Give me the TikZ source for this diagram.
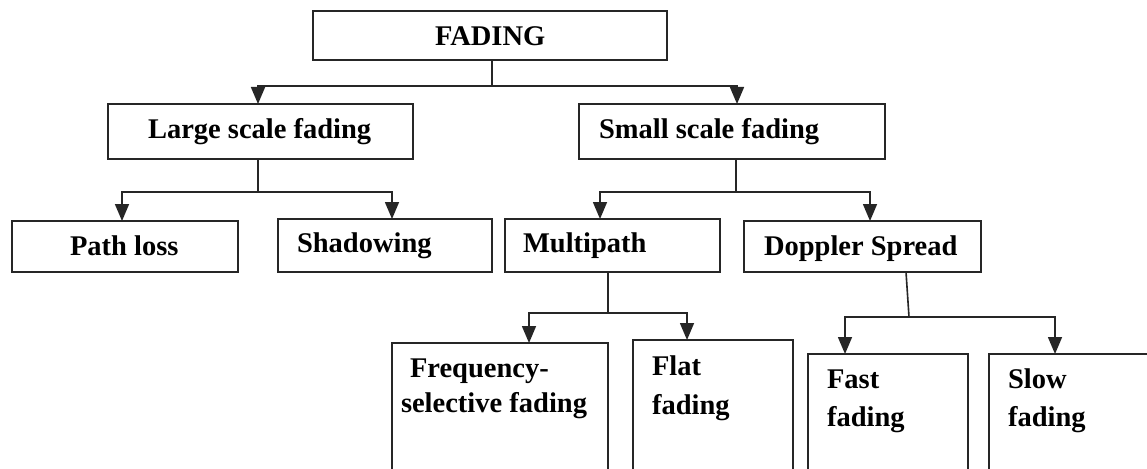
\documentclass[tikz,border=0pt]{standalone}
\usepackage{fontspec}
\setmainfont{Liberation Serif}
\usetikzlibrary{arrows.meta}

\tikzset{
  box/.style={draw=black!85, line width=1.6pt, inner sep=0pt, outer sep=0pt},
  conn/.style={draw=black!85, line width=1.6pt},
  arr/.style={conn, -{Triangle[width=14pt,length=17pt]}},
  lbl/.style={anchor=base west, inner sep=0pt, outer sep=0pt,
              font=\fontsize{28.5}{30}\selectfont\bfseries}
}

\begin{document}
\begin{tikzpicture}[x=1pt, y=-1pt]
  \useasboundingbox (0,0) rectangle (1147,468);
  \fill[white] (0,0) rectangle (1147,468);
  \clip (0,0) rectangle (1147,468);

  % boxes
  \node[box, minimum width=354pt, minimum height=49pt]  (fading)  at (490,35.5)   {};
  \node[box, minimum width=305pt, minimum height=55pt]  (large)   at (260.5,131.5) {};
  \node[box, minimum width=306pt, minimum height=55pt]  (small)   at (732,131.5)  {};
  \node[box, minimum width=226pt, minimum height=51pt]  (path)    at (125,246.5)  {};
  \node[box, minimum width=214pt, minimum height=53pt]  (shadow)  at (385,245.5)  {};
  \node[box, minimum width=215pt, minimum height=53pt]  (multi)   at (612.5,245.5) {};
  \node[box, minimum width=237pt, minimum height=51pt]  (doppler) at (862.5,246.5) {};
  \node[box, minimum width=216pt, minimum height=157pt] (freq)    at (500,421.5)  {};
  \node[box, minimum width=160pt, minimum height=160pt] (flat)    at (713,420)    {};
  \node[box, minimum width=160pt, minimum height=146pt] (fast)    at (888,427)    {};
  \node[box, minimum width=181pt, minimum height=146pt] (slow)    at (1079.5,427) {};

  % texts
  \node[lbl] (tFading)  at (435,46)  {FADING};
  \node[lbl] (tLarge)   at (148,138) {Large scale fading};
  \node[lbl] (tSmall)   at (599,138) {Small scale fading};
  \node[lbl] (tPath)    at (70,255)  {Path loss};
  \node[lbl] (tShadow)  at (297,252) {Shadowing};
  \node[lbl] (tMulti)   at (523,252) {Multipath};
  \node[lbl] (tDoppler) at (764,255) {Doppler Spread};
  \node[lbl] (tFreqA)   at (410,377) {Frequency-};
  \node[lbl] (tFreqB)   at (401,412) {selective fading};
  \node[lbl] (tFlatA)   at (652,375) {Flat};
  \node[lbl] (tFlatB)   at (652,414) {fading};
  \node[lbl] (tFastA)   at (827,388) {Fast};
  \node[lbl] (tFastB)   at (827,426) {fading};
  \node[lbl] (tSlowA)   at (1008,388) {Slow};
  \node[lbl] (tSlowB)   at (1008,426) {fading};

  % FADING -> large / small scale
  \draw[conn] ([xshift=2pt]fading.south) -- ++(0,26) coordinate (bF);
  \draw[arr] (bF) -| ([xshift=150pt]large.north west);
  \draw[arr] (bF) -| ([xshift=158pt]small.north west);

  % large scale -> path loss / shadowing
  \draw[conn] ([xshift=-2.5pt]large.south) -- ++(0,33) coordinate (bL);
  \draw[arr] (bL) -| ([xshift=110pt]path.north west);
  \draw[arr] (bL) -| ([xshift=114pt]shadow.north west);

  % small scale -> multipath / doppler
  \draw[conn] ([xshift=4pt]small.south) -- ++(0,33) coordinate (bS);
  \draw[arr] (bS) -| ([xshift=95pt]multi.north west);
  \draw[arr] (bS) -| ([xshift=126pt]doppler.north west);

  % multipath -> frequency-selective / flat
  \draw[conn] ([xshift=-4.5pt]multi.south) -- ++(0,41) coordinate (bM);
  \draw[arr] (bM) -| ([xshift=137pt]freq.north west);
  \draw[arr] (bM) -| ([xshift=54pt]flat.north west);

  % doppler -> fast / slow
  \draw[conn] ([xshift=43.5pt]doppler.south) -- ++(3,45) coordinate (bD);
  \draw[arr] (bD) -| ([xshift=37pt]fast.north west);
  \draw[arr] (bD) -| ([xshift=66pt]slow.north west);
\end{tikzpicture}
\end{document}
